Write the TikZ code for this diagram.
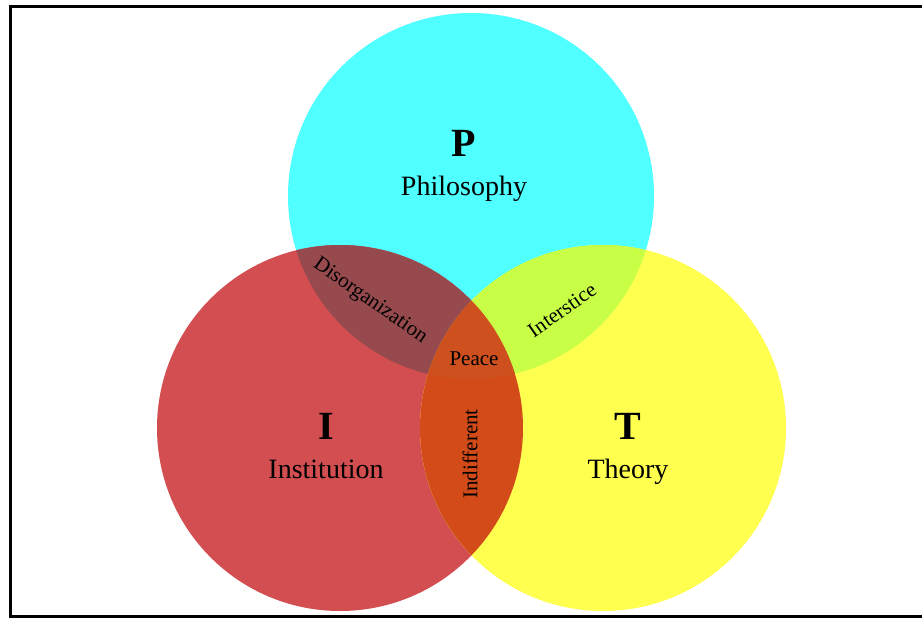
\documentclass[tikz,border=0pt]{standalone}
\usepackage{fontspec}
\setmainfont{Liberation Serif}

\definecolor{philcol}{RGB}{80,255,255}
\definecolor{instcol}{RGB}{211,78,81}
\definecolor{theocol}{RGB}{255,255,80}
\definecolor{disorgcol}{RGB}{150,74,78}
\definecolor{intercol}{RGB}{200,255,70}
\definecolor{indiffcol}{RGB}{210,75,25}
\definecolor{peacecol}{RGB}{205,80,30}

\tikzset{
  bigletter/.style={font=\fontsize{40}{40}\selectfont\bfseries, anchor=base},
  setname/.style={font=\fontsize{28}{28}\selectfont, anchor=base},
  overlap/.style={font=\fontsize{21}{21}\selectfont},
}

\begin{document}
\begin{tikzpicture}[x=1pt,y=-1pt]
                \useasboundingbox (0,0) rectangle (922,618);
                \def\circrad{183pt}
                \coordinate (cP) at (471,196);
                \coordinate (cI) at (340,428);
                \coordinate (cT) at (603,428);
                % the three sets
                \fill[philcol] (cP) circle [radius = \circrad];
                \fill[instcol] (cI) circle [radius = \circrad];
                \fill[theocol] (cT) circle [radius = \circrad];
                % overlaps
                \begin{scope}
                    \clip (cP) circle [radius = \circrad];
                    \fill[disorgcol] (cI) circle [radius = \circrad];
                    \fill[intercol] (cT) circle [radius = \circrad];
                \end{scope}
                \begin{scope}
                    \clip (cI) circle [radius = \circrad];
                    \fill[indiffcol] (cT) circle [radius = \circrad];
                    \clip (cP) circle [radius = \circrad];
                    \fill[peacecol] (cT) circle [radius = \circrad];
                \end{scope}
                % frame, open on the right
                \draw[line width = 3pt] (922,7) -- (10.5,7) -- (10.5,616) -- (922,616);
                % labels
                \node[bigletter] (P) at (464,156) {P};
                \node[setname] (phil) at (464,195) {Philosophy};
                \node[bigletter] (I) at (326,439) {I};
                \node[setname] (inst) at (326,478) {Institution};
                \node[bigletter] (T) at (628,439) {T};
                \node[setname] (theo) at (628,478) {Theory};
                \node[overlap, rotate = -35] (disorg) at (370,301) {Disorganization};
                \node[overlap, rotate = 35] (inter) at (562,310) {Interstice};
                \node[overlap, anchor = base] (peace) at (474,365) {Peace};
                \node[overlap, rotate = 90] (indiff) at (470,454) {Indifferent};
            \end{tikzpicture}
\end{document}
